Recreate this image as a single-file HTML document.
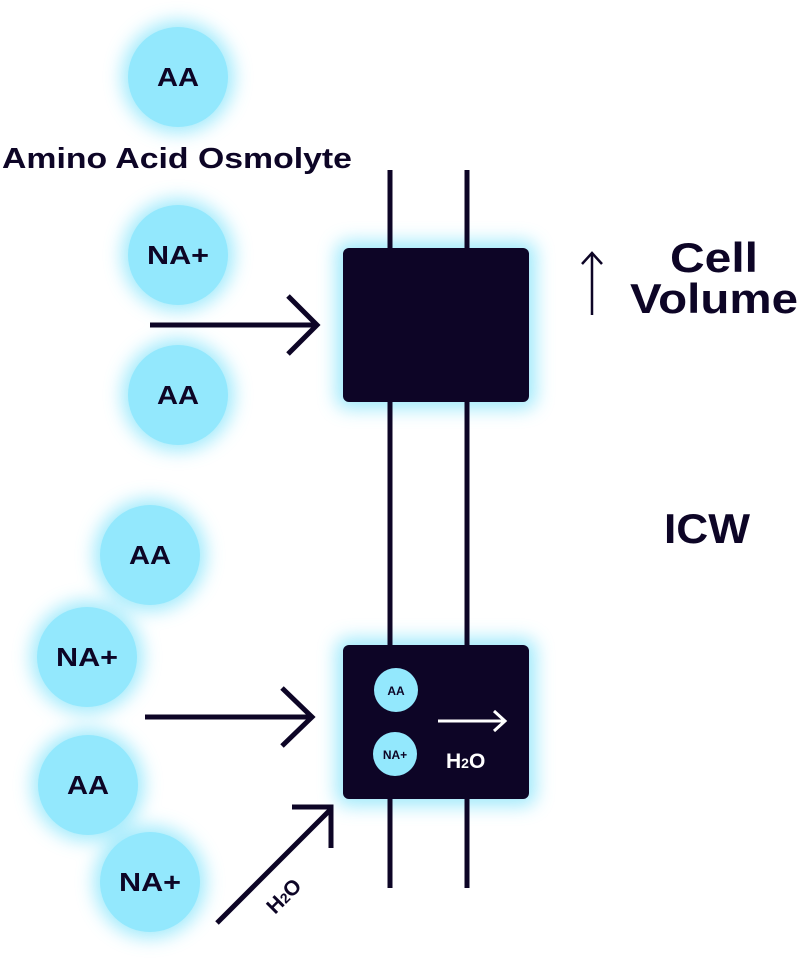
<!DOCTYPE html>
<html><head><meta charset="utf-8"><style>
html,body{margin:0;padding:0;background:#fff;}
svg{display:block;}
text{font-family:"Liberation Sans",sans-serif;fill:#0d0526;}
</style></head><body>
<svg width="800" height="959" viewBox="0 0 800 959" xmlns="http://www.w3.org/2000/svg">
<defs>
<filter id="g" x="-50%" y="-50%" width="200%" height="200%">
<feGaussianBlur stdDeviation="9"/>
</filter>
</defs>
<g fill="#8fe6fb" filter="url(#g)" opacity="0.85">
<circle cx="178" cy="77" r="56"/><circle cx="178" cy="255" r="56"/><circle cx="178" cy="395" r="56"/>
<circle cx="150" cy="555" r="56"/><circle cx="87" cy="657" r="56"/><circle cx="88" cy="785" r="56"/><circle cx="150" cy="882" r="56"/>
<rect x="336" y="241" width="200" height="168" rx="12"/>
<rect x="336" y="638" width="200" height="168" rx="12"/>
</g>
<g fill="#93e8fd">
<circle cx="178" cy="77" r="50"/><circle cx="178" cy="255" r="50"/><circle cx="178" cy="395" r="50"/>
<circle cx="150" cy="555" r="50"/><circle cx="87" cy="657" r="50"/><circle cx="88" cy="785" r="50"/><circle cx="150" cy="882" r="50"/>
</g>
<g font-size="26" text-anchor="middle" font-weight="bold" style="fill:#111">
<text x="178" y="86" textLength="42" lengthAdjust="spacingAndGlyphs">AA</text><text x="178" y="264" textLength="62" lengthAdjust="spacingAndGlyphs">NA+</text><text x="178" y="404" textLength="42" lengthAdjust="spacingAndGlyphs">AA</text>
<text x="150" y="564" textLength="42" lengthAdjust="spacingAndGlyphs">AA</text><text x="87" y="666" textLength="62" lengthAdjust="spacingAndGlyphs">NA+</text><text x="88" y="794" textLength="42" lengthAdjust="spacingAndGlyphs">AA</text><text x="150" y="891" textLength="62" lengthAdjust="spacingAndGlyphs">NA+</text>
</g>
<text x="2" y="168" font-size="29" font-weight="bold" textLength="350" lengthAdjust="spacingAndGlyphs">Amino Acid Osmolyte</text>
<g stroke="#0d0526" stroke-width="5">
<line x1="390" y1="170" x2="390" y2="888"/><line x1="467" y1="170" x2="467" y2="888"/>
</g>
<rect x="343" y="248" width="186" height="154" rx="6" fill="#0d0526"/>
<rect x="343" y="645" width="186" height="154" rx="6" fill="#0d0526"/>
<g stroke="#0d0526" stroke-width="5" fill="none">
<line x1="150" y1="325" x2="315" y2="325"/><polyline points="288,296 317,325 288,354"/>
<line x1="145" y1="717" x2="311" y2="717"/><polyline points="282,688 312,717 282,746"/>
<line x1="217" y1="923" x2="330" y2="810"/><polyline points="292,807 331,807 331,848"/>
</g>
<g stroke="#0d0526" stroke-width="2.5" fill="none">
<line x1="592" y1="254" x2="592" y2="315"/><polyline points="582,264 592,253 602,264"/>
</g>
<text x="670" y="272" font-size="42" font-weight="bold" textLength="88" lengthAdjust="spacingAndGlyphs">Cell</text>
<text x="630" y="313" font-size="42" font-weight="bold" textLength="168" lengthAdjust="spacingAndGlyphs">Volume</text>
<text x="664" y="543" font-size="42" font-weight="bold" textLength="86" lengthAdjust="spacingAndGlyphs">ICW</text>
<circle cx="396" cy="690" r="22" fill="#93e8fd"/><circle cx="395" cy="754" r="22" fill="#93e8fd"/>
<text x="396" y="695" font-size="12" text-anchor="middle" font-weight="bold">AA</text>
<text x="395" y="759" font-size="12" text-anchor="middle" font-weight="bold">NA+</text>
<g stroke="#fff" stroke-width="3" fill="none">
<line x1="438" y1="721" x2="504" y2="721"/><polyline points="494,711 505,721 494,731"/>
</g>
<text x="446" y="768" font-size="21" font-weight="bold" style="fill:#fff">H<tspan font-size="14">2</tspan>O</text>
<text transform="translate(275,915) rotate(-45)" font-size="21" font-weight="bold">H<tspan font-size="14">2</tspan>O</text>
</svg>
</body></html>
